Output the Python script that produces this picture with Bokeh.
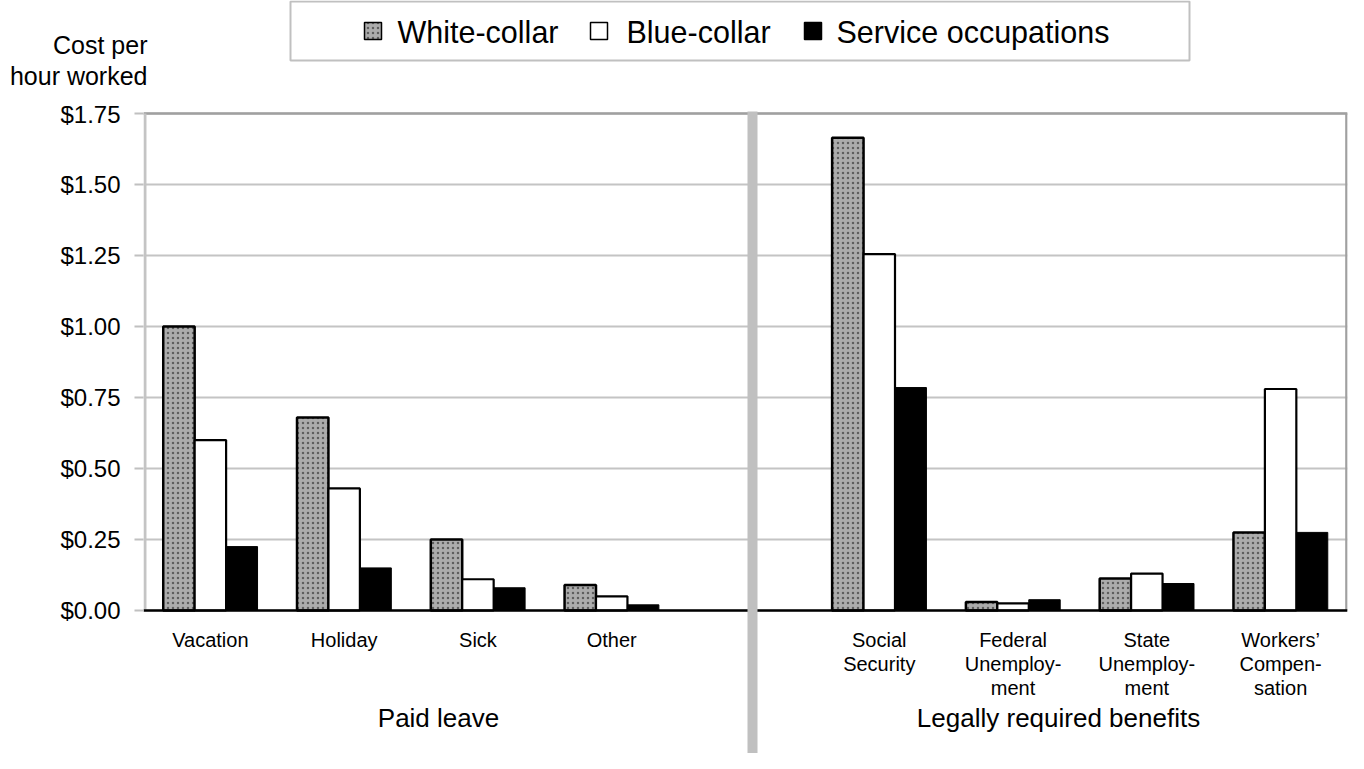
import numpy as np
from bokeh.plotting import figure
from bokeh.layouts import column
from bokeh.models import Range1d, FixedTicker, NumeralTickFormatter
from bokeh.core.properties import value
from bokeh.embed import file_html
from bokeh.resources import INLINE

# ---------------- data ----------------
categories = ["Vacation", "Holiday", "Sick", "Other",
              "Social\nSecurity", "Federal\nUnemploy-\nment",
              "State\nUnemploy-\nment", "Workers\u2019\nCompen-\nsation"]
groups = ["Paid leave"] * 4 + ["Legally required benefits"] * 4
white_collar = [1.00, 0.68, 0.25, 0.09, 1.665, 0.03, 0.113, 0.275]
blue_collar = [0.60, 0.43, 0.11, 0.05, 1.255, 0.025, 0.130, 0.780]
service = [0.225, 0.15, 0.08, 0.02, 0.785, 0.038, 0.095, 0.275]
series_names = ["White-collar", "Blue-collar", "Service occupations"]
y_ticks = [0.0, 0.25, 0.5, 0.75, 1.0, 1.25, 1.5, 1.75]
y_title = ["Cost per", "hour worked"]

# ---------------- layout constants (pixel geometry) ----------------
FONT = "Liberation Sans"
W, H = 1348, 753
TOP_H = 100                      # header strip: legend + y title
FRAME_LEFT_PX = 143
FRAME_RIGHT_PX = W - 1
ZERO_PX, TOP_PX = 610, 113
N_SLOTS = 9
PX_PER_X = (FRAME_RIGHT_PX - FRAME_LEFT_PX) / N_SLOTS
PX_PER_Y = (ZERO_PX - TOP_PX) / 1.75


def dx(px):
    return (px - FRAME_LEFT_PX) / PX_PER_X


def dy(py):
    return (ZERO_PX - py) / PX_PER_Y


# slot index per category (one empty slot between the two groups)
slots = [i + (1 if g != groups[0] else 0) for i, g in enumerate(groups)]
slot_x = np.array(slots) + 0.5
BAR_W = 0.235

TEXTURE = dict(fill_color="#acacac", hatch_pattern="dot", hatch_color="#5e5e5e",
               hatch_scale=5, hatch_weight=2)

# ---------------- header (legend + y-axis title) ----------------
head = figure(width=W, height=TOP_H, output_backend="svg", toolbar_location=None,
              x_range=Range1d(FRAME_LEFT_PX, FRAME_RIGHT_PX),
              y_range=Range1d(TOP_H, 0),
              x_axis_location=None,
              min_border_left=FRAME_LEFT_PX, min_border_right=1,
              min_border_top=0, min_border_bottom=0)
head.outline_line_color = None
head.grid.grid_line_color = None

# the y-axis title is carried by the header's own left axis
title_y = [44, 75]
head.yaxis.ticker = FixedTicker(ticks=title_y)
head.yaxis.major_label_overrides = {t: s for t, s in zip(title_y, y_title)}
head.yaxis.axis_line_color = None
head.yaxis.major_tick_line_color = None
head.yaxis.minor_tick_line_color = None
head.yaxis.major_tick_in = 0
head.yaxis.major_tick_out = 0
head.yaxis.major_label_standoff = -4
head.yaxis.major_label_text_font = FONT
head.yaxis.major_label_text_font_size = "25px"
head.yaxis.major_label_text_color = "black"

head.quad(left=[290], right=[1189], top=[1], bottom=[60],
          fill_color="white", line_color="#c0c0c0", line_width=2)
sw_left = [364, 590, 804]
sw_size = 17
sw_top = 22
head.quad(left=[sw_left[0]], right=[sw_left[0] + sw_size],
          top=[sw_top], bottom=[sw_top + sw_size],
          line_color="black", line_width=1.5, **TEXTURE)
head.quad(left=[sw_left[1]], right=[sw_left[1] + sw_size],
          top=[sw_top], bottom=[sw_top + sw_size],
          fill_color="white", line_color="black", line_width=1.5)
head.quad(left=[sw_left[2]], right=[sw_left[2] + sw_size],
          top=[sw_top], bottom=[sw_top + sw_size],
          fill_color="black", line_color="black", line_width=1.5)
head.text(x=[397, 626, 836], y=[31] * 3, text=series_names,
          text_font=value(FONT), text_font_size="30.5px", text_align="left",
          text_baseline="middle", text_color="black")

# ---------------- main chart ----------------
p = figure(width=W, height=H - TOP_H, output_backend="svg", toolbar_location=None,
           x_range=Range1d(0, N_SLOTS),
           y_range=Range1d(dy(H), dy(TOP_H)),
           x_axis_location=None,
           min_border_left=FRAME_LEFT_PX, min_border_right=1,
           min_border_top=0, min_border_bottom=0)
p.outline_line_color = None
p.background_fill_color = "white"
p.border_fill_color = "white"

# y axis
p.yaxis.ticker = FixedTicker(ticks=y_ticks)
p.yaxis.formatter = NumeralTickFormatter(format="$0.00")
p.yaxis.axis_line_color = None
p.yaxis.major_tick_in = 0
p.yaxis.major_tick_out = 9
p.yaxis.major_tick_line_color = "#c0c0c0"
p.yaxis.major_tick_line_width = 2
p.yaxis.minor_tick_line_color = None
p.yaxis.major_label_standoff = 14
p.yaxis.major_label_text_font = FONT
p.yaxis.major_label_text_font_size = "24px"
p.yaxis.major_label_text_color = "black"

p.ygrid.ticker = FixedTicker(ticks=y_ticks)
p.ygrid.grid_line_color = "#c4c4c4"
p.ygrid.grid_line_width = 2
p.xgrid.grid_line_color = None

# plot-area border (top & right) and left axis line
p.segment(x0=[0, N_SLOTS - 0.008], y0=[y_ticks[-1], 0],
          x1=[N_SLOTS, N_SLOTS - 0.008], y1=[y_ticks[-1], y_ticks[-1]],
          line_color="#a0a0a0", line_width=2.5)
p.segment(x0=[0.011], y0=[0], x1=[0.011], y1=[y_ticks[-1]],
          line_color="#c4c4c4", line_width=3)

# bars
p.vbar(x=slot_x - BAR_W, top=white_collar, width=BAR_W, bottom=0,
       line_color="black", line_width=2.5, **TEXTURE)
p.vbar(x=slot_x, top=blue_collar, width=BAR_W, bottom=0,
       fill_color="white", line_color="black", line_width=2.2)
p.vbar(x=slot_x + BAR_W, top=service, width=BAR_W, bottom=0,
       fill_color="black", line_color="black", line_width=1)

# baseline
p.segment(x0=[0], y0=[0], x1=[N_SLOTS], y1=[0], line_color="black", line_width=2.5)

# divider between groups
div_x = dx(752)
p.segment(x0=[div_x], y0=[dy(H)], x1=[div_x], y1=[dy(111)],
          line_color="#c0c0c0", line_width=10, line_cap="butt")

# category labels
p.text(x=slot_x, y=[dy(628)] * len(categories), text=categories,
       text_font=value(FONT), text_font_size="20px", text_align="center",
       text_baseline="top", text_line_height=1.1, text_color="black")

# group labels
group_names = list(dict.fromkeys(groups))
p.text(x=[dx(438), dx(1058)], y=[dy(717)] * 2, text=group_names,
       text_font=value(FONT), text_font_size="26px", text_align="center",
       text_baseline="middle", text_color="black")

layout = column(head, p, spacing=0)
open("out.html", "w").write(file_html(layout, INLINE))
